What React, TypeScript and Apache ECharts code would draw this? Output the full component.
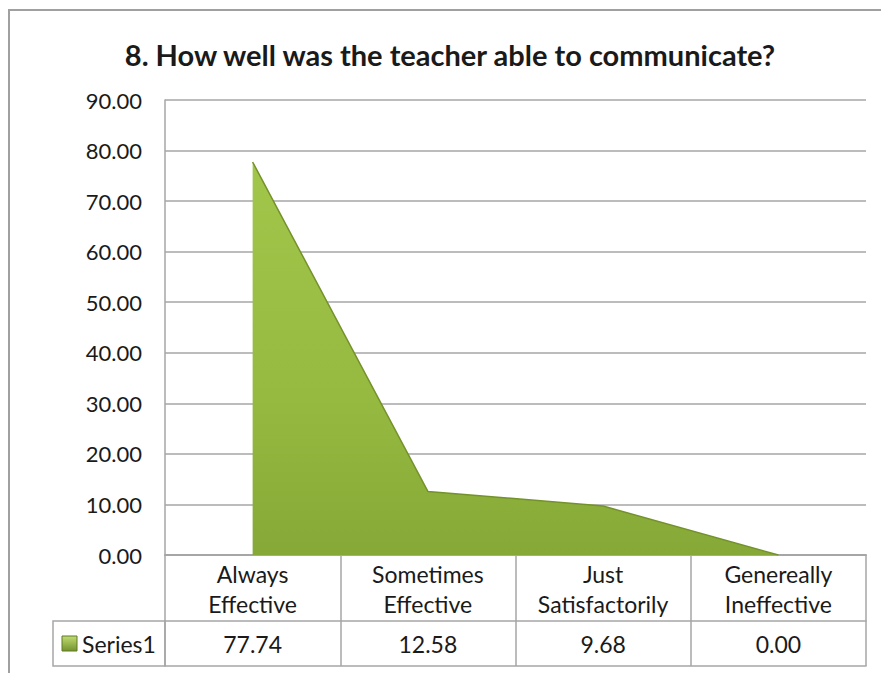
import React, { useEffect, useRef } from "react";
import * as echarts from "echarts";

const titleText = "8. How well was the teacher able to communicate?";
const categories = ["Always Effective", "Sometimes Effective", "Just Satisfactorily", "Genereally Ineffective"];
const seriesName = "Series1";
const values = [77.74, 12.58, 9.68, 0.0];
const yMin = 0;
const yMax = 90;
const yInterval = 10;

const FONT = "Lato";
const TEXT = "#1a1a1a";
const LINE = "#a6a6a6";

export default function App() {
  const ref = useRef<HTMLDivElement>(null);
  useEffect(() => {
    if (!ref.current) return;
    const chart = echarts.init(ref.current, null, { renderer: "svg" });
    const gridLeft = 165;
    const gridRight = 15;
    const gridTop = 100;
    const gridBottom = 118;
    chart.setOption({
      animation: false,
      backgroundColor: "#ffffff",
      title: {
        text: titleText,
        left: 445,
        textAlign: "center",
        top: 35,
        textStyle: { fontFamily: FONT, fontSize: 29, fontWeight: "bold", color: TEXT },
      },
      grid: { left: gridLeft, right: gridRight, top: gridTop, bottom: gridBottom },
      xAxis: [
        {
          type: "category",
          data: categories,
          boundaryGap: true,
          axisLine: { show: true, lineStyle: { color: LINE, width: 2 } },
          axisTick: { show: true, interval: 0, length: 66, lineStyle: { color: LINE, width: 1.5 } },
          axisLabel: {
            interval: 0,
            margin: 4,
            fontFamily: FONT,
            fontSize: 23,
            lineHeight: 30,
            color: TEXT,
            formatter: (v: string) => v.replace(" ", "\n"),
          },
          splitLine: { show: false },
        },
        {
          type: "category",
          data: categories,
          position: "bottom",
          offset: 66,
          boundaryGap: true,
          axisLine: { show: true, lineStyle: { color: LINE, width: 1.5 } },
          axisTick: { show: true, interval: 0, length: 45, lineStyle: { color: LINE, width: 1.5 } },
          axisLabel: {
            interval: 0,
            margin: 11,
            fontFamily: FONT,
            fontSize: 23,
            color: TEXT,
            formatter: (_v: string, i: number) => values[i].toFixed(2),
          },
        },
        {
          type: "category",
          data: categories,
          position: "bottom",
          offset: 111,
          boundaryGap: true,
          axisLine: { show: true, lineStyle: { color: LINE, width: 1.5 } },
          axisTick: { show: false },
          axisLabel: { show: false },
        },
      ],
      yAxis: {
        type: "value",
        min: yMin,
        max: yMax,
        interval: yInterval,
        axisLine: { show: true, lineStyle: { color: LINE, width: 1.5 } },
        axisTick: { show: false },
        axisLabel: {
          margin: 23,
          fontFamily: FONT,
          fontSize: 22,
          color: TEXT,
          formatter: (v: number) => v.toFixed(2),
        },
        splitLine: { show: true, lineStyle: { color: LINE, width: 1.5 } },
      },
      series: [
        {
          name: seriesName,
          type: "line",
          xAxisIndex: 0,
          data: values,
          symbol: "none",
          lineStyle: { color: "#74922c", width: 1.5 },
          areaStyle: {
            opacity: 1,
            color: new echarts.graphic.LinearGradient(0, 0, 0, 1, [
              { offset: 0, color: "#a2c64a" },
              { offset: 0.6, color: "#96ba40" },
              { offset: 1, color: "#86a837" },
            ]),
          },
        },
      ],
      graphic: [
        {
          type: "rect",
          shape: { x: 9, y: 10, width: 900, height: 700 },
          style: { fill: "none", stroke: "#a0a0a0", lineWidth: 2 },
          silent: true,
        },
        {
          type: "rect",
          shape: { x: 53, y: 621, width: 112, height: 45 },
          style: { fill: "none", stroke: LINE, lineWidth: 1.5 },
          silent: true,
        },
        {
          type: "rect",
          shape: { x: 62, y: 636, width: 15, height: 15 },
          style: {
            fill: new echarts.graphic.LinearGradient(0, 0, 0, 1, [
              { offset: 0, color: "#c0dc74" },
              { offset: 1, color: "#74922c" },
            ]),
            stroke: "#5f7a25",
            lineWidth: 1,
          },
          silent: true,
        },
        {
          type: "text",
          x: 82,
          y: 644,
          style: {
            text: seriesName,
            fontFamily: FONT,
            fontSize: 23,
            fill: TEXT,
            verticalAlign: "middle",
            align: "left",
          },
          silent: true,
        },
      ],
    });
    return () => chart.dispose();
  }, []);
  return (
    <div
      ref={ref}
      style={{ position: "fixed", left: 0, top: 0, width: 881, height: 673 }}
    />
  );
}
